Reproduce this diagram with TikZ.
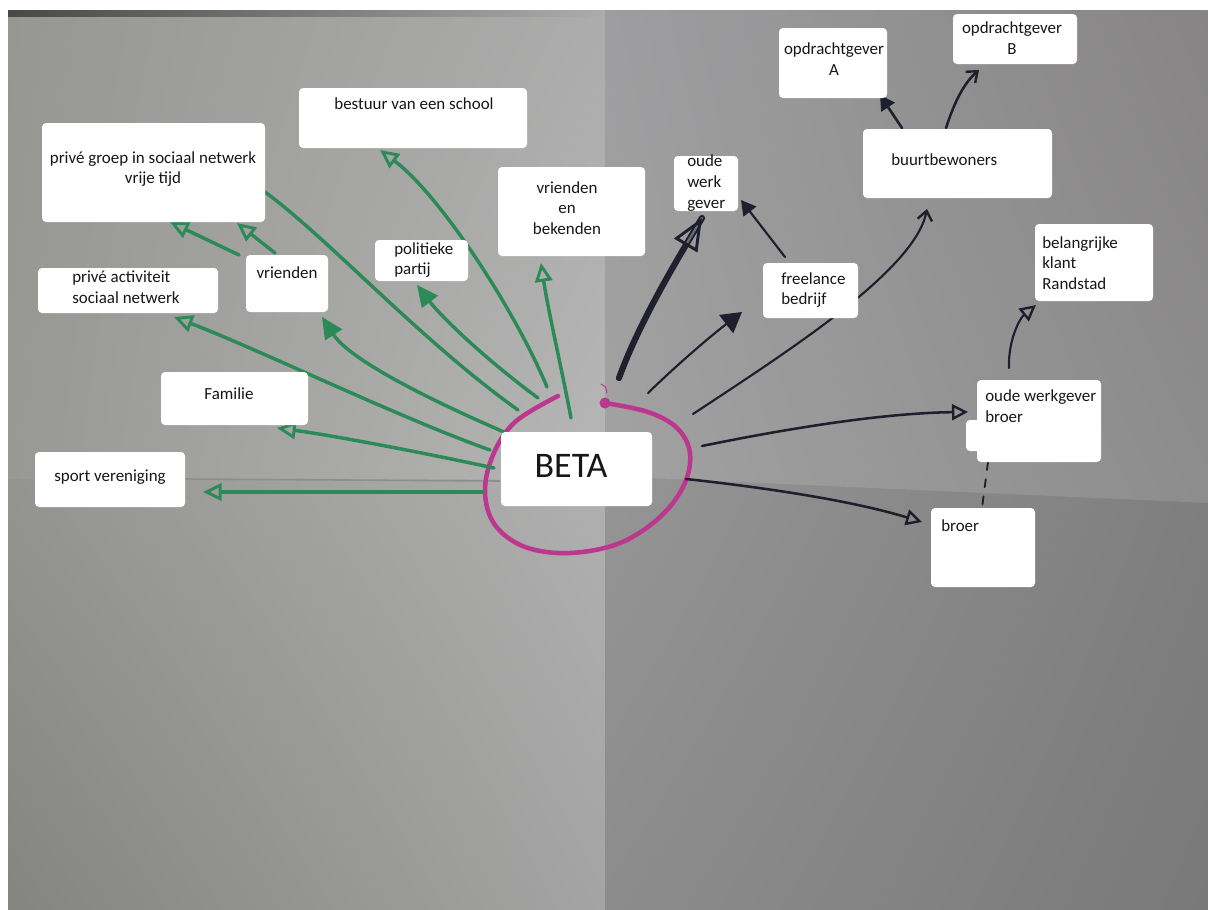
\documentclass[tikz,border=0pt]{standalone}
\usepackage{fontspec}
\setmainfont{Carlito}
\usetikzlibrary{arrows.meta,fit,shadings}

% paper tones
\definecolor{pTLul}{RGB}{150,150,147}
\definecolor{pTLur}{RGB}{172,172,172}
\definecolor{pTLll}{RGB}{152,152,149}
\definecolor{pTLlr}{RGB}{182,182,182}
\definecolor{pBLul}{RGB}{148,148,145}
\definecolor{pBLur}{RGB}{176,176,176}
\definecolor{pBLll}{RGB}{132,132,129}
\definecolor{pBLlr}{RGB}{164,164,164}
\definecolor{pTRul}{RGB}{158,158,160}
\definecolor{pTRur}{RGB}{134,132,132}
\definecolor{pTRll}{RGB}{162,162,162}
\definecolor{pTRlr}{RGB}{142,141,141}
\definecolor{pBRul}{RGB}{150,150,150}
\definecolor{pBRur}{RGB}{128,127,127}
\definecolor{pBRll}{RGB}{140,140,140}
\definecolor{pBRlr}{RGB}{122,121,121}
\definecolor{edgeband}{RGB}{72,72,68}
\definecolor{foldline}{RGB}{142,142,140}
% pens
\definecolor{marker}{RGB}{44,138,88}
\definecolor{ink}{RGB}{30,30,44}
\definecolor{inkgap}{RGB}{110,110,112}
\definecolor{pinkmark}{RGB}{188,56,142}
\definecolor{textc}{RGB}{22,22,22}

\newcommand\lblfont{\fontsize{12.7}{15.5}\selectfont}
\newcommand\betafont{\fontsize{27}{32}\selectfont}

\begin{document}
\begin{tikzpicture}[x=0.75pt, y=-0.75pt,
  card/.style={fill=white, rounded corners=3pt, inner sep=0pt, draw=none},
  lbl/.style={inner sep=0pt, text=textc, font=\lblfont},
  gline/.style={draw=marker, line width=2.6pt, line cap=round, line join=round},
  kline/.style={draw=ink, line width=1.9pt, line cap=round, line join=round},
  gtip/.style={-{Triangle[open, length=14pt, width=13pt, line width=2.2pt]}},
  gbig/.style={-{Triangle[length=16pt, width=15pt, line width=1.5pt]}},
  kopen/.style={-{Triangle[open, length=12pt, width=12pt, line width=1.8pt]}},
  kfill/.style={-{Triangle[length=11pt, width=12pt]}},
  kbarb/.style={-{Straight Barb[length=7pt, width=11pt, line width=1.8pt]}},
]

\useasboundingbox (0,0) rectangle (1208,910);

% sheet of paper with its two folds
\fill[white] (0,0) rectangle (1208,910);
\shade[upper left=pTLul, upper right=pTLur, lower left=pTLll, lower right=pTLlr]
  (8,10) rectangle (605,479);
\shade[upper left=pBLul, upper right=pBLur, lower left=pBLll, lower right=pBLlr]
  (8,479) rectangle (605,910);
\shade[upper left=pBRul, upper right=pBRur, lower left=pBRll, lower right=pBRlr]
  (605,440) rectangle (1208,910);
\shade[upper left=pTRul, upper right=pTRur, lower left=pTRll, lower right=pTRlr]
  (605,10) -- (1208,10) -- (1208,503) -- (605,476) -- cycle;
\shade[left color=edgeband, right color=pTLur] (8,10) rectangle (605,16);
\draw[foldline, line width=1.2pt] (185,479) -- (500,481);

% magenta loop round the centre
\draw[pinkmark, line width=3.4pt, line cap=round]
  plot[smooth, tension=0.6] coordinates {(558,396) (515,422) (493,455) (485,492)
  (495,525) (525,547) (570,553) (620,543) (660,517) (684,485) (690,453)
  (677,428) (648,412) (605,403)};
\fill[pinkmark] (605,403) circle (5.5);
\draw[pinkmark, line width=0.8pt] (601,384) .. controls (606,387) .. (607,393);

% ---- green connectors (private circle) ----
\coordinate (g1s) at (483,492); \coordinate (g1e) at (203,492);
\coordinate (g2s) at (494,468); \coordinate (g2e) at (277,428);
\coordinate (g3s) at (490,450); \coordinate (g3e) at (174,317);
\coordinate (g4s) at (504,432); \coordinate (g4e) at (322,317);
\coordinate (g5s) at (518,410); \coordinate (g5e) at (265,192);
\coordinate (g6s) at (538,398); \coordinate (g6e) at (417,285);
\coordinate (g7s) at (547,387); \coordinate (g7e) at (380,150);
\coordinate (g8s) at (571,418); \coordinate (g8e) at (541,263);
\coordinate (g9s) at (239,255); \coordinate (g9e) at (170,222);
\coordinate (g10s) at (275,253); \coordinate (g10e) at (237,223);

\draw[gline, gtip] (g1s) -- (g1e);
\draw[gline, gtip] (g2s) .. controls (420,452) and (330,435) .. (g2e);
\draw[gline, gtip] (g3s) .. controls (400,418) and (260,350) .. (g3e);
\draw[gline, gbig] (g4s) .. controls (430,400) and (350,360) .. (g4e);
\draw[gline] (g5s) .. controls (420,340) and (330,240) .. (g5e);
\draw[gline, gbig] (g6s) .. controls (480,355) and (440,315) .. (g6e);
\draw[gline, gtip] (g7s) .. controls (515,310) and (440,195) .. (g7e);
\draw[gline, gtip] (g8s) .. controls (562,370) and (548,310) .. (g8e);
\draw[gline, gtip] (g9s) -- (g9e);
\draw[gline, gtip] (g10s) -- (g10e);

% ---- dark connectors (work circle) ----
\coordinate (k1s) at (619,378);  \coordinate (k1e) at (702,218);
\coordinate (k2s) at (648,393);  \coordinate (k2e) at (742,312);
\coordinate (k3s) at (785,257);  \coordinate (k3e) at (741,200);
\coordinate (k4s) at (693,414);  \coordinate (k4e) at (927,209);
\coordinate (k5s) at (902,128);  \coordinate (k5e) at (880,95);
\coordinate (k6s) at (946,128);  \coordinate (k6e) at (979,70);
\coordinate (k7s) at (702,446);  \coordinate (k7e) at (968,412);
\coordinate (k8s) at (1009,368); \coordinate (k8e) at (1036,305);
\coordinate (k9s) at (988,462);  \coordinate (k9e) at (982,508);
\coordinate (k10s) at (686,479); \coordinate (k10e) at (922,522);

\draw[draw=ink, line width=1.5pt, double=inkgap, double distance=1.6pt, line cap=round]
  (k1s) .. controls (640,320) and (680,255) .. (k1e);
\draw[kline, -{Triangle[open, length=24pt, width=20pt, line width=2.2pt]}]
  (k1s) .. controls (640,320) and (680,255) .. (k1e);
\draw[kline, line width=1.6pt, -{Triangle[length=15pt, width=17pt]}]
  (k2s) .. controls (680,362) and (712,335) .. (k2e);
\draw[kline, line width=1.6pt, kfill] (k3s) -- (k3e);
\draw[kline, line width=1.6pt, kbarb] (k4s) .. controls (790,350) and (915,270) .. (k4e);
\draw[kline, kfill] (k5s) -- (k5e);
\draw[kline, kbarb] (k6s) .. controls (955,100) and (965,82) .. (k6e);
\draw[kline, kopen] (k7s) .. controls (780,430) and (880,413) .. (k7e);
\draw[kline, line width=1.6pt, kopen] (k8s) .. controls (1008,340) and (1020,318) .. (k8e);
\draw[kline, line width=1.4pt, dash pattern=on 6pt off 7pt] (k9s) -- (k9e);
\draw[kline, kopen] (k10s) .. controls (760,487) and (850,500) .. (k10e);

% ---- cards ----
\node[card, fit={(299,88) (527,148)}]   (bestuur) {};
\node[card, fit={(42,123) (265,222)}]   (prgroep) {};
\node[card, fit={(498,167) (645,256)}]  (vrbek) {};
\node[card, fit={(375,240) (468,281)}]  (politiek) {};
\node[card, fit={(246,255) (328,312)}]  (vrienden) {};
\node[card, fit={(38,268) (218,313)}]   (priveact) {};
\node[card, fit={(161,372) (308,425)}]  (familie) {};
\node[card, fit={(35,452) (185,507)}]   (sport) {};
\node[card, fit={(501,432) (652,506)}]  (beta) {};
\node[card, fit={(779,28) (887,98)}]    (opdrA) {};
\node[card, fit={(953,14) (1077,64)}]   (opdrB) {};
\node[card, fit={(863,129) (1052,198)}] (buurt) {};
\node[card, fit={(674,156) (738,211)}]  (oudewg) {};
\node[card, fit={(763,263) (858,318)}]  (freelance) {};
\node[card, fit={(1035,224) (1153,301)}] (klant) {};
\node[card, fit={(966,420) (990,451)}]  (owbroerB) {};
\node[card, fit={(977,380) (1101,462)}] (owbroer) {};
\node[card, fit={(931,508) (1035,587)}] (broer) {};

% ---- labels ----
\node[lbl] (l-bestuur) at (414,104) {bestuur van een school};
\node[lbl, align=center] (l-prgroep) at (153,169) {privé groep in sociaal netwerk\\vrije tijd};
\node[lbl, align=center] (l-vrbek) at (567,208) {vrienden\\en\\bekenden};
\node[lbl, align=left, anchor=west] (l-politiek) at (394,260) {politieke\\partij};
\node[lbl] (l-vrienden) at (287,273) {vrienden};
\node[lbl, align=left, anchor=west] (l-priveact) at (72,287) {privé activiteit\\sociaal netwerk};
\node[lbl] (l-familie) at (229,394) {Familie};
\node[lbl] (l-sport) at (110,477) {sport vereniging};
\node[lbl, font=\betafont] (l-beta) at (571,466) {BETA};
\node[lbl, align=center] (l-opdrA) at (834,59) {opdrachtgever\\A};
\node[lbl, align=center] (l-opdrB) at (1012,38) {opdrachtgever\\B};
\node[lbl, anchor=west] (l-buurt) at (891,160) {buurtbewoners};
\node[lbl, align=left, anchor=west] (l-oudewg) at (687,183) {oude\\werk\\gever};
\node[lbl, align=left, anchor=west] (l-freelance) at (781,290) {freelance\\bedrijf};
\node[lbl, align=left, anchor=west] (l-klant) at (1042,263) {belangrijke\\klant\\Randstad};
\node[lbl, align=left, anchor=west] (l-owbroer) at (985,406) {oude werkgever\\broer};
\node[lbl, anchor=west] (l-broer) at (941,526) {broer};

\end{tikzpicture}
\end{document}
